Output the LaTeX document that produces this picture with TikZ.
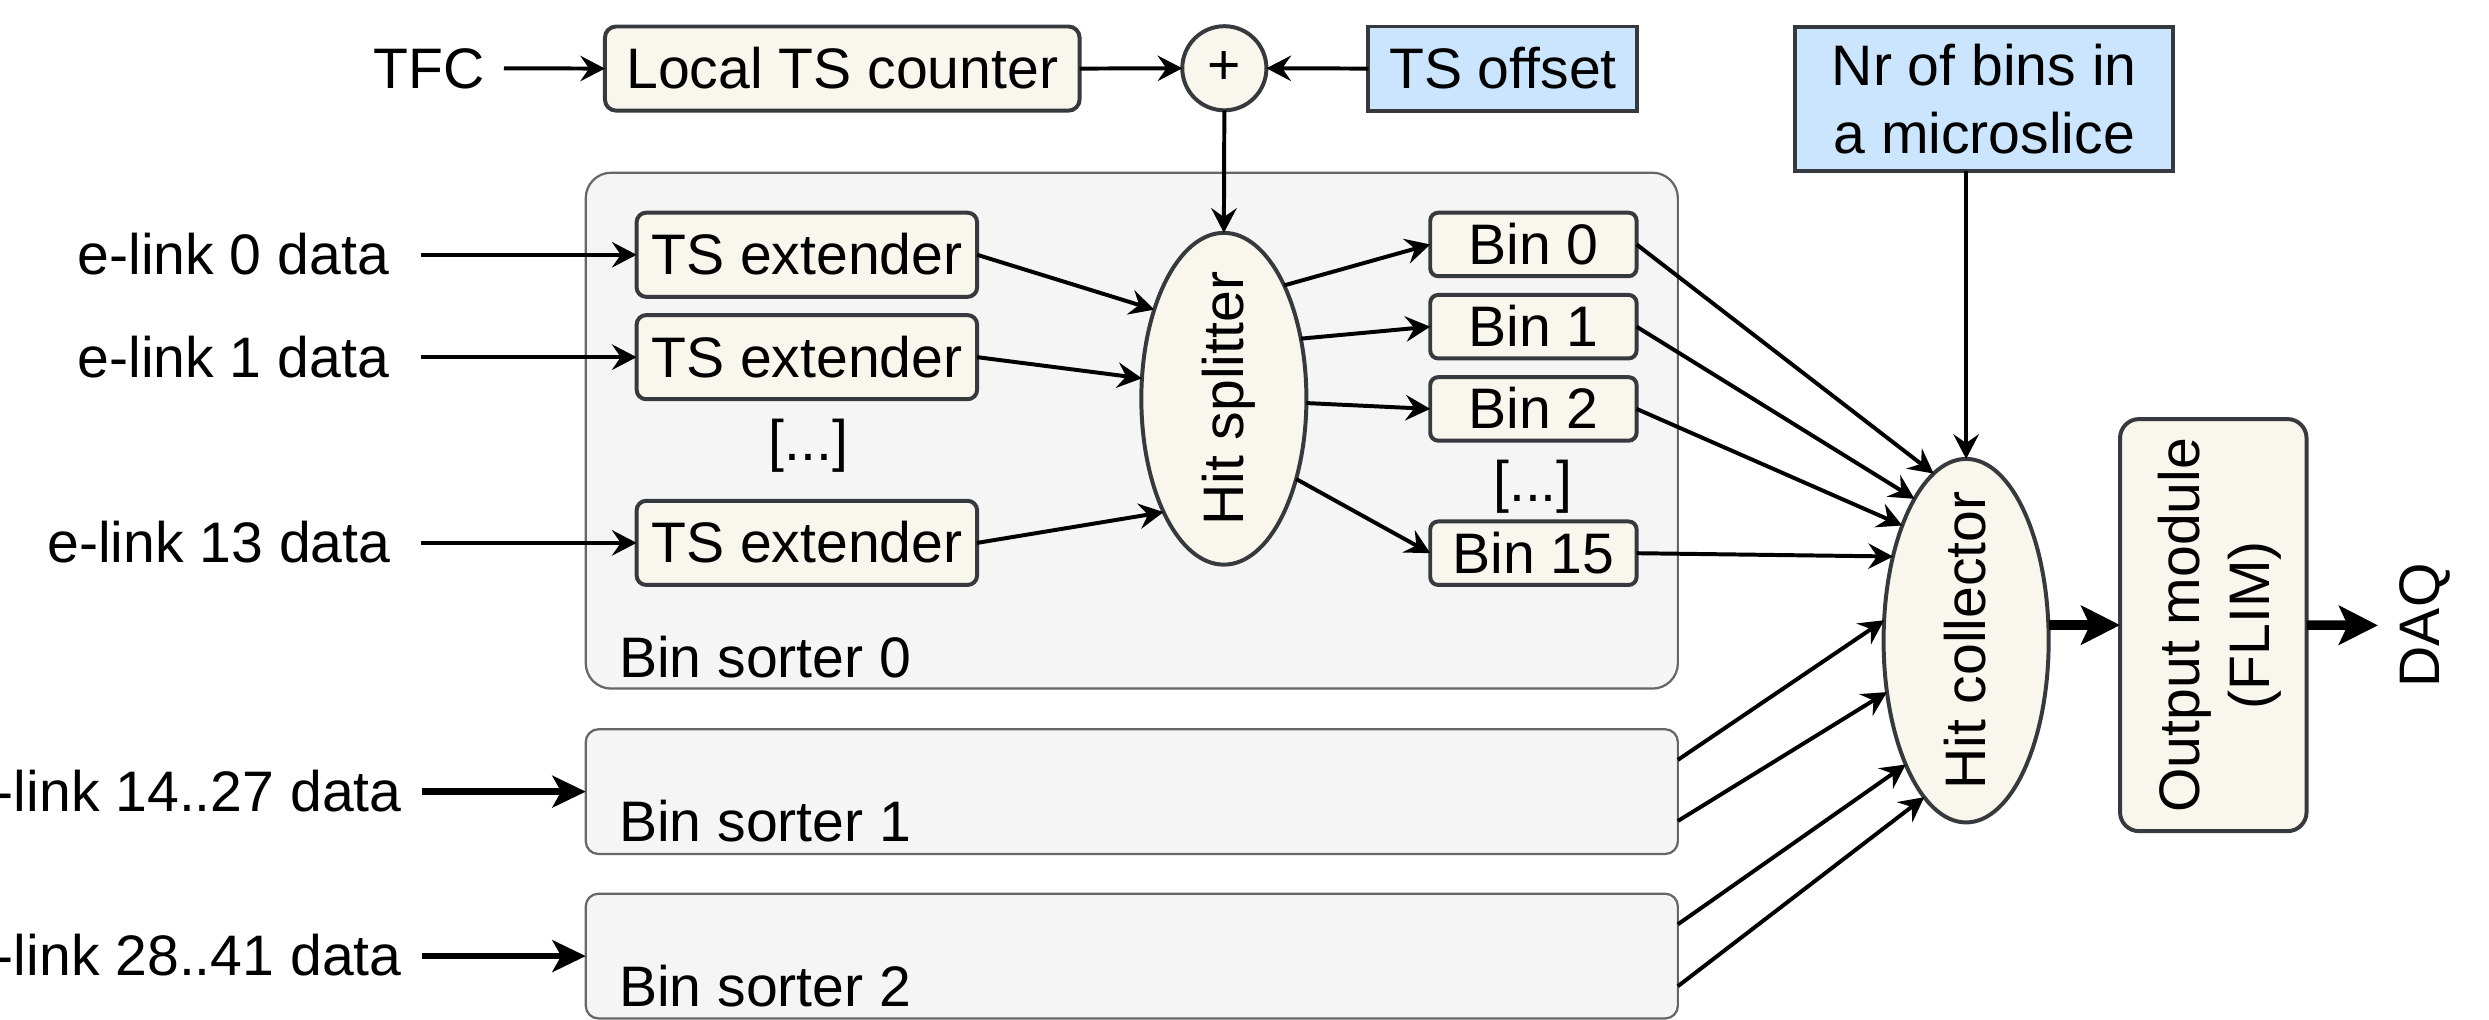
\documentclass[tikz,border=0pt]{standalone}
\usepackage{fontspec}
\usepackage{graphicx}
\setmainfont{Liberation Sans}
\usetikzlibrary{arrows.meta,calc,shapes.geometric}

\definecolor{blockfill}{HTML}{F9F7ED}
\definecolor{blockedge}{HTML}{36393D}
\definecolor{paramfill}{HTML}{CCE5FF}
\definecolor{groupfill}{HTML}{F5F5F5}
\definecolor{groupedge}{HTML}{666666}

% text whose box is exactly the cap height, so capitals sit centred
\newcommand{\capbox}[1]{\raisebox{0pt}[25pt][0pt]{#1}}
% vertical text that takes no height in its node
\newcommand{\vlabel}[1]{\rotatebox{90}{\makebox[0pt]{\capbox{#1}}}}

\begin{document}
\begin{tikzpicture}[x=1pt,y=-1pt,
  font=\fontsize{36}{43}\selectfont,
  every node/.style={inner sep=0pt,outer sep=0pt},
  capline/.style={text height=25pt,text depth=0pt},
  block/.style={draw=blockedge,fill=blockfill,line width=2.5pt,rounded corners=#1},
  block/.default=7pt,
  param/.style={draw=blockedge,fill=paramfill,line width=2.5pt},
  oval/.style={ellipse,draw=blockedge,fill=blockfill,line width=2.5pt},
  group/.style={draw=groupedge,fill=groupfill,line width=1.4pt,rounded corners=#1},
  link/.style={line width=2.5pt,-{Stealth[length=15.5pt,width=16pt,inset=5.5pt]}},
  bus/.style={line width=4pt,-{Stealth[length=21pt,width=20pt,inset=5.5pt]}},
  fat/.style={line width=6pt,-{Stealth[length=24.5pt,width=24.5pt,inset=5.5pt]}}]

\useasboundingbox (0,0) rectangle (1568,642);

% bin sorter frames
\node[group=16pt,minimum width=688pt,minimum height=325pt] (bs0) at (713,271.3) {};
\node[group=8pt,minimum width=688pt,minimum height=78.6pt] (bs1) at (713,498.7) {};
\node[group=8pt,minimum width=688pt,minimum height=78.6pt] (bs2) at (713,602.3) {};
\node[anchor=base west] (bs0lbl) at (390,427) {Bin sorter 0};
\node[anchor=base west] (bs1lbl) at (390,530) {Bin sorter 1};
\node[anchor=base west] (bs2lbl) at (390,634) {Bin sorter 2};

% timestamp path
\node[capline,anchor=east] (tfc) at (305.5,43) {TFC};
\node[block,capline,minimum width=299pt,minimum height=53pt] (lts) at (530.6,43.2) {Local TS counter};
\node[oval,minimum size=53pt] (plus) at (771.3,43) {+};
\node[param,capline,minimum width=169.5pt,minimum height=53pt] (tso) at (946.8,43.2) {TS offset};

% configuration
\node[param,align=center,minimum width=238pt,minimum height=91pt] (nrb) at (1250,62.5) {Nr of bins in\\a microslice};

% inputs
\node[capline,anchor=east] (el0) at (245,160.5) {e-link 0 data};
\node[capline,anchor=east] (el1) at (245,225) {e-link 1 data};
\node[capline,anchor=east] (el13) at (246,342) {e-link 13 data};
\node[capline,anchor=east] (el14) at (253,498.7) {e-link 14..27 data};
\node[capline,anchor=east] (el28) at (253,602.3) {e-link 28..41 data};

% timestamp extenders
\node[block=6pt,capline,minimum width=214.5pt,minimum height=53pt] (tse0) at (508.3,160.5) {TS extender};
\node[block=6pt,capline,minimum width=214.5pt,minimum height=53pt] (tse1) at (508.3,225) {TS extender};
\node[block=6pt,capline,minimum width=214.5pt,minimum height=53pt] (tse13) at (508.3,342) {TS extender};
\node (dots0) at (509.4,280.8) {[...]};

% splitter
\node[oval,minimum width=104pt,minimum height=209pt] (hs) at (771,251.2) {\vlabel{Hit splitter}};

% bins
\node[block=5pt,capline,minimum width=130pt,minimum height=40pt] (bin0) at (966,154) {Bin 0};
\node[block=5pt,capline,minimum width=130pt,minimum height=40pt] (bin1) at (966,205.8) {Bin 1};
\node[block=5pt,capline,minimum width=130pt,minimum height=40pt] (bin2) at (966,257.6) {Bin 2};
\node[block=5pt,capline,minimum width=130pt,minimum height=40pt] (bin15) at (966,348.5) {Bin 15};
\node (dots1) at (965.7,306.7) {[...]};

% collector and output
\node[oval,minimum width=104pt,minimum height=229pt] (hc) at (1238.6,403.6) {\vlabel{Hit collector}};
\node[block=12pt,minimum width=117.5pt,minimum height=259.6pt,font=\fontsize{36}{44.5}\selectfont] (om) at (1394.3,393.8)
  {\rotatebox{90}{\raisebox{-4.5pt}[\height][\depth]{\begin{tabular}{@{}c@{}}Output module\\(FLIM)\end{tabular}}}};
\node (daq) at (1524.5,394) {\vlabel{DAQ}};

% connectors
\draw[link,shorten <=12pt] (tfc.east) -- (lts.west);
\draw[link] (lts.east) -- (plus.west);
\draw[link] (tso.west) -- (plus.east);
\draw[link] (plus.south) -- (hs.north);

\draw[link,shorten <=20pt] (el0.east) -- (tse0.west);
\draw[link,shorten <=20pt] (el1.east) -- (tse1.west);
\draw[link,shorten <=19pt] (el13.east) -- (tse13.west);
\draw[bus,shorten <=13pt] (el14.east) -- (bs1.west);
\draw[bus,shorten <=13pt] (el28.east) -- (bs2.west);

\draw[link] (tse0.east) -- (hs.128);
\draw[link] (tse1.east) -- (hs.166);
\draw[link] (tse13.east) -- (hs.242.5);

\draw[link] (hs.62.3) -- (bin0.west);
\draw[link] (hs.38) -- (bin1.west);
\draw[link] (hs.-3) -- (bin2.west);
\draw[link] (hs.-48.6) -- (bin15.west);

\draw[link] (nrb.south -| hc.north) -- (hc.north);
\draw[link] (bin0.east) -- (hc.101.7);
\draw[link] (bin1.east) -- (hc.110);
\draw[link] (bin2.east) -- (hc.119.3);
\draw[link] (bin15.east) -- (hc.131.7);
\draw[link] ($(bs1.east)+(0,-20)$) -- (hc.166.4);
\draw[link] ($(bs1.east)+(0,18.5)$) -- (hc.213.6);
\draw[link] ($(bs2.east)+(0,-20)$) -- (hc.244.5);
\draw[link] ($(bs2.east)+(0,19)$) -- (hc.255);

\draw[fat] (hc.east |- om.west) -- (om.west);
\draw[fat,shorten >=14pt] (om.east) -- (daq.west);
\end{tikzpicture}
\end{document}
